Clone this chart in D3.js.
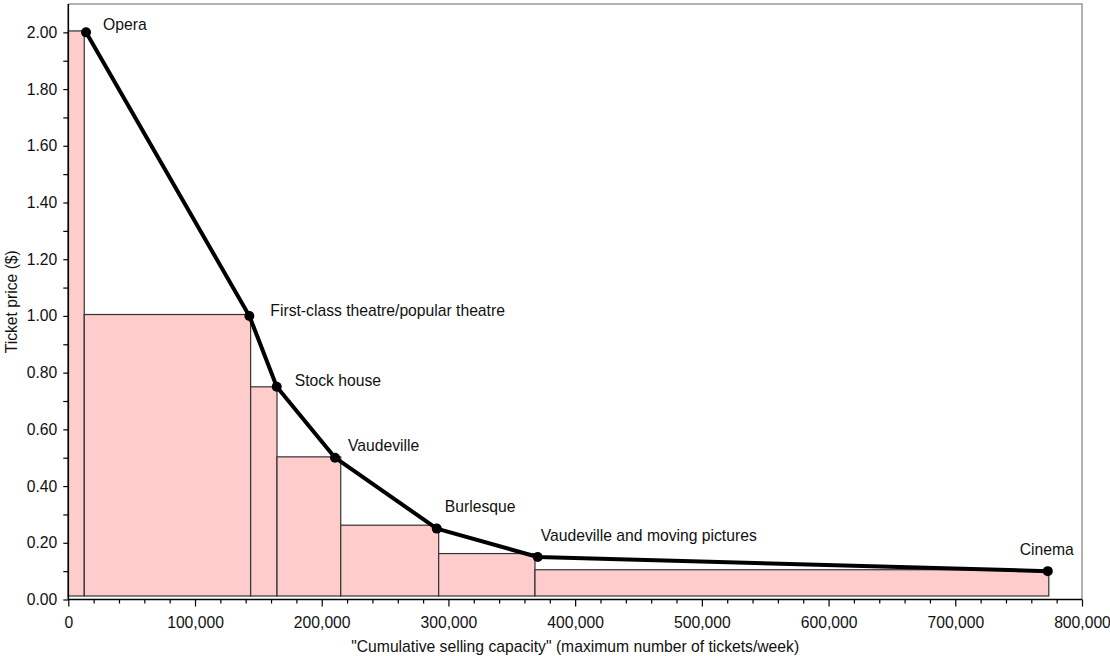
<!DOCTYPE html>
<html><head><meta charset="utf-8">
<script src="https://cdn.jsdelivr.net/npm/d3@7"></script>
<style>
html,body{margin:0;padding:0;background:#fff;}
svg text{font-family:"Liberation Sans",Arial,sans-serif;}
</style>
</head><body>
<svg id="chart" width="1110" height="656"></svg>
<script>
// Venue categories
const categories = ["Opera","First-class theatre/popular theatre","Stock house","Vaudeville","Burlesque","Vaudeville and moving pictures","Cinema"];
// Cumulative capacity at each venue point (tickets/week)
const capacity = [14000, 142900, 164500, 210500, 290800, 370500, 773000];
// Ticket price ($)
const price = [2.00, 1.00, 0.75, 0.50, 0.25, 0.15, 0.10];
// Step bars: cumulative edges and bar heights
const barEdges = [0, 12600, 143900, 164700, 215000, 292300, 368300, 773800];
const barHeights = [2.005, 1.005, 0.75, 0.503, 0.262, 0.162, 0.105];
// Tick values
const xTicks = [0,100000,200000,300000,400000,500000,600000,700000,800000];
const yTicks = [0,0.2,0.4,0.6,0.8,1.0,1.2,1.4,1.6,1.8,2.0];
// label offsets (layout only)
const labelOffsets = [[17,-2,"start"],[21,0,"start"],[18,-1,"start"],[13,-7,"start"],[8,-17,"start"],[3,-16,"start"],[-1,-16,"middle"]];

const FS = 15.7;
const svg = d3.select("#chart");
const L = 68.3, R = 1082, T = 4, B = 599.5;
const x = d3.scaleLinear().domain([0, 800000]).range([L, R]);
const y = d3.scaleLinear().domain([0, 2.1]).range([B, T]);

// frame top/right
svg.append("path").attr("d", `M${L},${T}H${R}V${B}`).attr("fill","none").attr("stroke","#999").attr("stroke-width",1.5);

// bars
const barBase = y(0) - 3.5;
svg.append("g").selectAll("rect").data(barHeights).join("rect")
  .attr("x", (d,i) => x(barEdges[i]))
  .attr("width", (d,i) => x(barEdges[i+1]) - x(barEdges[i]))
  .attr("y", d => y(d))
  .attr("height", d => barBase - y(d))
  .attr("fill", "#ffcccc")
  .attr("stroke", "#333")
  .attr("stroke-width", 1.2);

// y axis
const fmtY = d3.format(".2f");
const yAxis = svg.append("g").attr("transform", `translate(${L},0)`)
  .call(d3.axisLeft(y).tickValues(yTicks).tickFormat(fmtY).tickSize(5).tickPadding(6));
svg.append("g").attr("transform", `translate(${L},0)`)
  .call(d3.axisLeft(y).tickValues(d3.range(0.1, 2.1, 0.2)).tickFormat("").tickSize(5))
  .call(g => g.select(".domain").remove());
yAxis.select(".domain").attr("d", `M0,${T}V${B}`).attr("stroke-width",1.6);
// x axis
const fmtX = d3.format(",");
const xAxis = svg.append("g").attr("transform", `translate(0,${B})`)
  .call(d3.axisBottom(x).tickValues(xTicks).tickFormat(fmtX).tickSize(7).tickPadding(10));
xAxis.select(".domain").attr("d", `M${L},0H${R}`).attr("stroke-width",1.6);
svg.append("g").attr("transform", `translate(0,${B})`)
  .call(d3.axisBottom(x).tickValues(d3.range(20000, 800000, 20000).filter(v => v % 100000 !== 0)).tickFormat("").tickSize(4))
  .call(g => g.select(".domain").remove());
svg.selectAll(".tick line").attr("stroke","#000").attr("stroke-width",1.2);
svg.selectAll(".tick text").attr("font-size", FS).attr("fill","#111")
  .attr("font-family", '"Liberation Sans",Arial,sans-serif');

// line
const line = d3.line().x((d,i) => x(capacity[i])).y(d => y(d));
svg.append("path").datum(price).attr("d", line).attr("fill","none")
  .attr("stroke","#000").attr("stroke-width",4).attr("stroke-linejoin","round");
svg.append("g").selectAll("circle").data(price).join("circle")
  .attr("cx", (d,i) => x(capacity[i])).attr("cy", d => y(d)).attr("r", 5).attr("fill","#000");

// labels
svg.append("g").selectAll("text").data(categories).join("text")
  .attr("x", (d,i) => x(capacity[i]) + labelOffsets[i][0])
  .attr("y", (d,i) => y(price[i]) + labelOffsets[i][1])
  .attr("text-anchor", (d,i) => labelOffsets[i][2])
  .attr("font-size", FS).attr("fill","#111")
  .text(d => d);

// axis titles
svg.append("text").attr("transform", `translate(17,${(T+B)/2}) rotate(-90)`)
  .attr("text-anchor","middle").attr("font-size",FS).attr("fill","#111").text("Ticket price ($)");
svg.append("text").attr("x", (L+R)/2 + 0).attr("y", 652)
  .attr("text-anchor","middle").attr("font-size",FS).attr("fill","#111")
  .text('"Cumulative selling capacity" (maximum number of tickets/week)');
</script>
</body></html>
